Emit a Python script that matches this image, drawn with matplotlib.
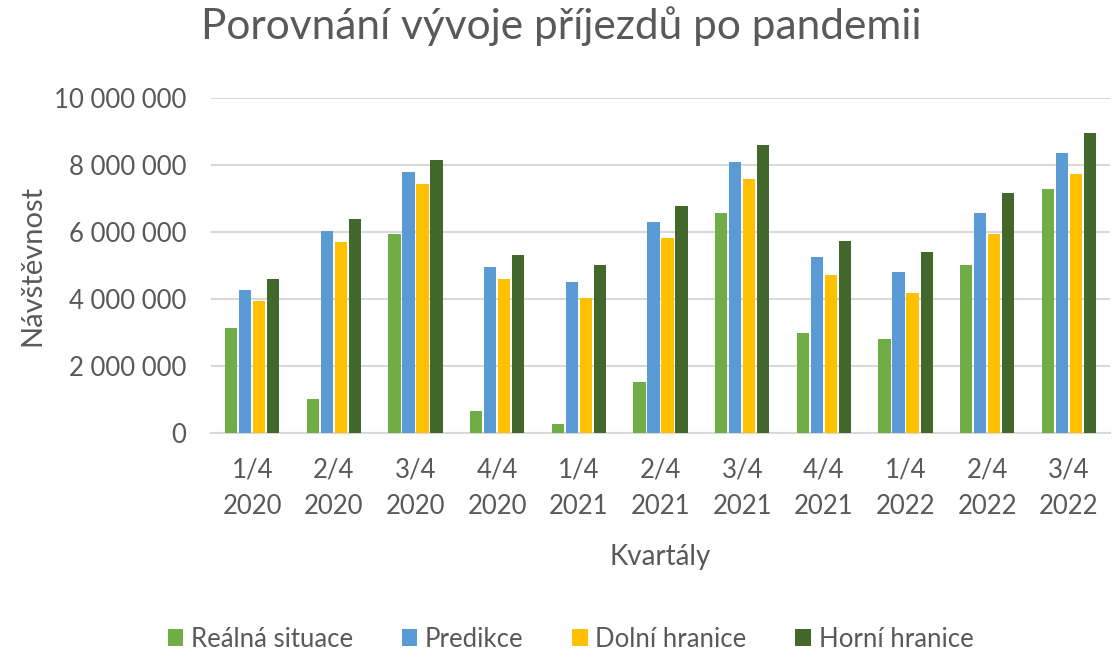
import numpy as np
import matplotlib.pyplot as plt
import matplotlib.ticker as ticker

plt.rcParams['font.family'] = ['Lato', 'DejaVu Sans']

kvartaly = ['1/4\n2020', '2/4\n2020', '3/4\n2020', '4/4\n2020',
            '1/4\n2021', '2/4\n2021', '3/4\n2021', '4/4\n2021',
            '1/4\n2022', '2/4\n2022', '3/4\n2022']

realna = [3130000, 1010000, 5940000, 650000, 260000, 1520000, 6550000, 2990000, 2790000, 5010000, 7280000]
predikce = [4260000, 6020000, 7780000, 4940000, 4500000, 6300000, 8070000, 5240000, 4790000, 6550000, 8340000]
dolni = [3930000, 5700000, 7410000, 4580000, 4020000, 5820000, 7570000, 4710000, 4180000, 5940000, 7720000]
horni = [4580000, 6380000, 8140000, 5300000, 5010000, 6780000, 8590000, 5730000, 5410000, 7160000, 8940000]

nazvy = ['Reálná situace', 'Predikce', 'Dolní hranice', 'Horní hranice']
barvy = ['#70AD47', '#5B9BD5', '#FFC000', '#43682B']
text_c = '#595959'

fig = plt.figure(figsize=(11.12, 6.55), dpi=100)
ax = fig.add_axes([0.19, 0.339, 0.808, 0.512])

x = np.arange(len(kvartaly))
sirka = 0.15
krok = 0.172
for i, (data, nazev, barva) in enumerate(zip([realna, predikce, dolni, horni], nazvy, barvy)):
    ax.bar(x + (i - 1.5) * krok, data, sirka, color=barva, label=nazev, zorder=3)

ax.set_xlim(-0.5, len(kvartaly) - 0.5)
ax.set_ylim(0, 10000000)
ax.set_yticks(np.arange(0, 10000001, 2000000))
ax.yaxis.set_major_formatter(ticker.FuncFormatter(lambda v, p: f'{int(v):,}'.replace(',', ' ')))
ax.set_xticks(x)
ax.set_xticklabels(kvartaly, linespacing=1.55)
ax.tick_params(axis='both', length=0, labelsize=18.5, colors=text_c)
ax.tick_params(axis='x', pad=18)
ax.tick_params(axis='y', pad=18)
ax.grid(axis='y', color='#D9D9D9', linewidth=1.5, zorder=0)
for s in ['top', 'right', 'left']:
    ax.spines[s].set_visible(False)
ax.spines['bottom'].set_color('#D9D9D9')
ax.spines['bottom'].set_linewidth(1.5)

ax.set_ylabel('Návštěvnost', fontsize=21, color=text_c, labelpad=6)
ax.set_xlabel('Kvartály', fontsize=20, color=text_c, labelpad=18)
fig.suptitle('Porovnání vývoje příjezdů po pandemii', fontsize=30.5, color=text_c, x=0.505, y=0.99)

fig.legend(loc='lower center', ncol=4, bbox_to_anchor=(0.513, -0.03), frameon=False,
           fontsize=18.5, labelcolor=text_c, handlelength=0.6, handleheight=0.6,
           columnspacing=1.9, handletextpad=0.3)

fig.savefig('out.png', dpi=100)
